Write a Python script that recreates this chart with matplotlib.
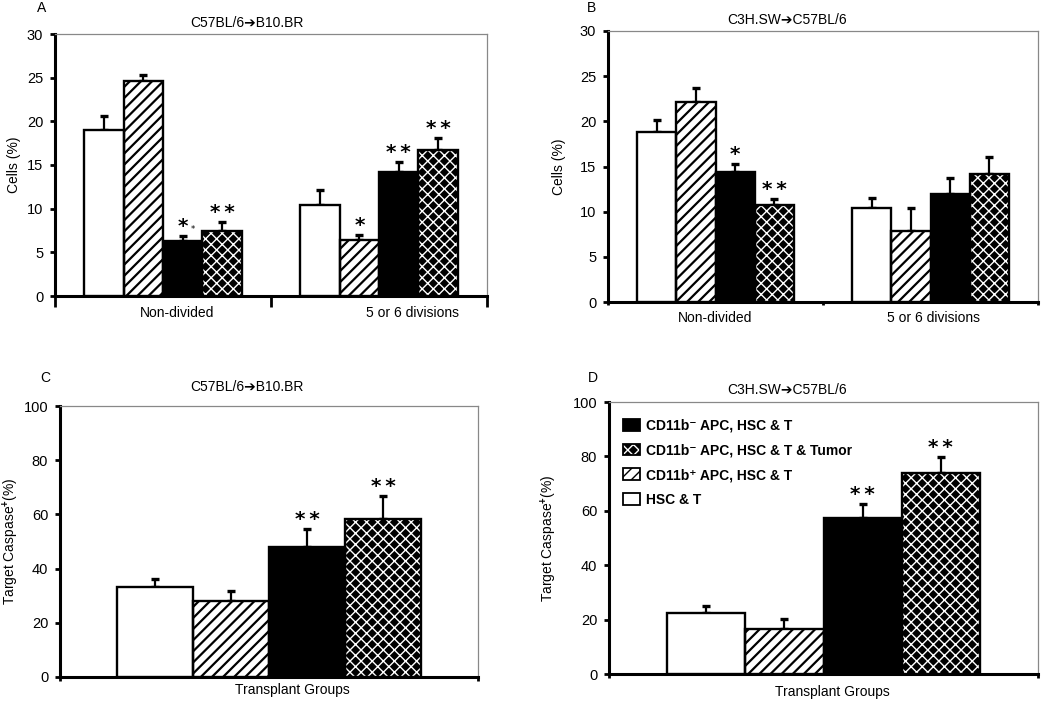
import matplotlib
matplotlib.use("Agg")
import matplotlib.pyplot as plt
import numpy as np
from matplotlib.patches import Patch
from matplotlib.legend_handler import HandlerTuple
from matplotlib.transforms import ScaledTranslation

plt.rcParams['font.family'] = ['Liberation Sans', 'DejaVu Sans']
plt.rcParams['mathtext.fontset'] = 'custom'
plt.rcParams['mathtext.rm'] = 'Liberation Sans'
plt.rcParams['mathtext.bf'] = 'Liberation Sans:bold'

# ---------------- data ----------------
groups = ["HSC & T", "CD11b+ APC, HSC & T", "CD11b- APC, HSC & T", "CD11b- APC, HSC & T & Tumor"]

cats_ab = ["Non-divided", "5 or 6 divisions"]
# Panel A (C57BL/6 -> B10.BR), rows = groups, cols = categories
a_mean = [[19.0, 10.4], [24.6, 6.4], [6.3, 14.2], [7.4, 16.7]]
a_err = [[1.6, 1.7], [0.7, 0.6], [0.6, 1.1], [1.1, 1.4]]
a_stars = [["", ""], ["", "*"], ["*", "**"], ["**", "**"]]
# Panel B (C3H.SW -> C57BL/6)
b_mean = [[18.8, 10.4], [22.1, 7.9], [14.4, 12.0], [10.7, 14.2]]
b_err = [[1.4, 1.1], [1.6, 2.5], [0.9, 1.7], [0.7, 1.8]]
b_stars = [["", ""], ["", ""], ["*", ""], ["**", ""]]

cats_cd = ["Transplant Groups"]
# Panel C (C57BL/6 -> B10.BR)
c_mean = [[33.3], [28.0], [48.0], [58.2]]
c_err = [[3.0], [3.9], [6.6], [8.7]]
c_stars = [[""], [""], ["**"], ["**"]]
# Panel D (C3H.SW -> C57BL/6)
d_mean = [[22.6], [16.5], [57.2], [74.0]]
d_err = [[2.4], [3.8], [5.3], [5.6]]
d_stars = [[""], [""], ["**"], ["**"]]

legend_labels = ["CD11b\u207b APC, HSC & T", "CD11b\u207b APC, HSC & T & Tumor",
                 "CD11b\u207a APC, HSC & T", "HSC & T"]

# ---------------- styles ----------------
W = 0.182
styles = [
    dict(face="white", hatch=None, hcolor="black", hlw=1.5),
    dict(face="white", hatch="///", hcolor="black", hlw=1.6),
    dict(face="black", hatch=None, hcolor="black", hlw=1.5),
    dict(face="black", hatch="xxx", hcolor="white", hlw=1.0),
]

fig = plt.figure(figsize=(10.5, 7.03), dpi=100)


def panel(rect, cats, mean, err, stars, ylim, ystep, ylabel, ylabelpad, title, title_xy,
          letter, letter_xy, sep_len, label_offsets, xpad):
    ax = fig.add_axes(rect)
    x = np.arange(len(cats))
    for i, st in enumerate(styles):
        pos = x + (i - 1.5) * W
        m = np.array(mean[i])
        e = np.array(err[i])
        ax.errorbar(pos, m, yerr=[np.zeros_like(e), e], fmt='none', ecolor='black',
                    elinewidth=1.6, capsize=3.2, capthick=2.4, zorder=2)
        with plt.rc_context({'hatch.linewidth': st["hlw"]}):
            bars = ax.bar(pos, m, W, color=st["face"], edgecolor=st["hcolor"], hatch=st["hatch"],
                          linewidth=0, zorder=3)
        for b in bars:
            if hasattr(b, "set_hatch_linewidth"):
                b.set_hatch_linewidth(st["hlw"])
        ax.bar(pos, m, W, fill=False, edgecolor='black', linewidth=1.7, zorder=4)
        for p, mm, ee, s in zip(pos, m, e, stars[i]):
            if s:
                ax.annotate("\u2009".join(s), (p, mm + ee), xytext=(0, 0), textcoords='offset points',
                            ha='center', va='bottom', fontsize=14.5, fontweight='bold',
                            family='DejaVu Sans')
    ax.set_xlim(-0.5, len(cats) - 0.5)
    ax.set_ylim(*ylim)
    ax.set_yticks(np.arange(ylim[0], ylim[1] + 0.1, ystep))
    ax.set_xticks(x)
    ax.set_xticklabels(cats, fontsize=10)
    ax.set_xticks(np.arange(-0.5, len(cats)), minor=True)
    ax.tick_params(axis='x', which='major', length=0, pad=xpad)
    ax.tick_params(axis='x', which='minor', length=sep_len, width=2, direction='out')
    ax.tick_params(axis='y', length=3.5, width=2, labelsize=10.5, pad=5)
    for lab, off in zip(ax.get_xticklabels(), label_offsets):
        lab.set_transform(lab.get_transform() + ScaledTranslation(off / 100, 0, fig.dpi_scale_trans))
    for s in ['left', 'bottom']:
        ax.spines[s].set_linewidth(2.2)
        ax.spines[s].set_color('black')
    for s in ['top', 'right']:
        ax.spines[s].set_linewidth(0.9)
        ax.spines[s].set_color('#888888')
    ax.set_ylabel(ylabel, fontsize=10, labelpad=ylabelpad)
    fig.text(title_xy[0] / 1050, 1 - title_xy[1] / 703, title, ha='center', va='center', fontsize=10)
    fig.text(letter_xy[0] / 1050, 1 - letter_xy[1] / 703, letter, ha='center', va='center', fontsize=10)
    return ax


arrow = "\u2794"
axA = panel([55 / 1050, 407 / 703, 432 / 1050, 262 / 703], cats_ab, a_mean, a_err, a_stars,
            (0, 30), 5, "Cells (%)", 4, "C57BL/6" + arrow + "B10.BR", (247, 23), "A", (42, 8),
            8, [14, 34], 7)
axB = panel([608 / 1050, 401 / 703, 430 / 1050, 271 / 703], cats_ab, b_mean, b_err, b_stars,
            (0, 30), 5, "Cells (%)", 10, "C3H.SW" + arrow + "C57BL/6", (787, 20), "B", (592, 8),
            2, [0, 3], 6.5)
axC = panel([60 / 1050, 26 / 703, 418 / 1050, 271 / 703], cats_cd, c_mean, c_err, c_stars,
            (0, 100), 20, r"Target Caspase$^{\mathbf{+}}$(%)", 2, "C57BL/6" + arrow + "B10.BR",
            (247, 387), "C", (45, 378), 3, [23], 4)
axD = panel([609 / 1050, 29 / 703, 429 / 1050, 272 / 703], cats_cd, d_mean, d_err, d_stars,
            (0, 100), 20, r"Target Caspase$^{\mathbf{+}}$(%)", 10, "C3H.SW" + arrow + "C57BL/6",
            (787, 390), "D", (593, 378), 3, [9], 8)

# little stray mark next to the star in panel A
axA.annotate("*", (0 + 0.5 * W, a_mean[2][0] + a_err[2][0]), xytext=(7, 1), textcoords='offset points',
             ha='center', va='bottom', fontsize=6, family='DejaVu Sans')

# legend in panel D
order = [2, 3, 1, 0]
handles = []
for i in order:
    st = styles[i]
    with plt.rc_context({'hatch.linewidth': st["hlw"]}):
        face = Patch(facecolor=st["face"], edgecolor=st["hcolor"], hatch=st["hatch"], linewidth=0)
    if hasattr(face, "set_hatch_linewidth"):
        face.set_hatch_linewidth(st["hlw"])
    outline = Patch(fill=False, edgecolor='black', linewidth=1.3)
    handles.append((face, outline))
leg = axD.legend(handles, legend_labels, loc='upper left', bbox_to_anchor=(0.02, 0.96),
                 frameon=False, handler_map={tuple: HandlerTuple(ndivide=1, pad=0)},
                 prop={'weight': 'bold', 'size': 10}, handlelength=1.22, handleheight=0.95,
                 labelspacing=0.78, handletextpad=0.45, borderaxespad=0)

fig.savefig("out.png", dpi=100)
